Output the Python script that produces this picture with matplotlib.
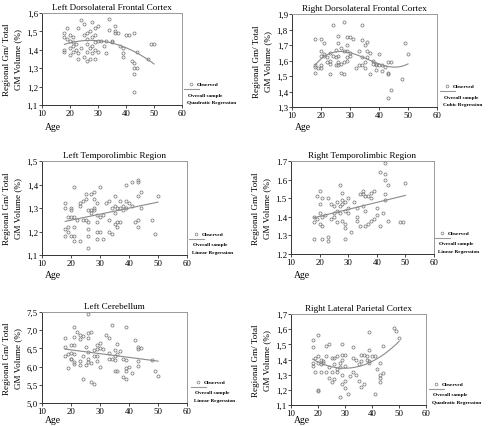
import matplotlib
matplotlib.use("Agg")
import matplotlib.pyplot as plt
import numpy as np
from matplotlib.ticker import FuncFormatter

plt.rcParams["font.family"] = ["Liberation Serif", "DejaVu Serif"]

# ---- data ----
# Left Dorsolateral Frontal Cortex
ldf_age = [18, 18, 18, 18, 19, 19, 20, 20, 20, 20, 21, 21, 21, 21, 22, 22,
           23, 23, 23, 24, 24, 25, 25, 25, 26, 26, 26, 26, 26, 27, 27, 27,
           28, 28, 28, 28, 29, 29, 29, 29, 29, 30, 30, 30, 31, 32, 33, 33,
           34, 34, 35, 35, 36, 36, 36, 37, 38, 39, 39, 39, 40, 41, 42,
           43, 43, 43, 43, 43, 44, 44, 48, 49, 50]
ldf_val = [1.49, 1.47, 1.40, 1.39, 1.52, 1.46, 1.48, 1.45, 1.41, 1.37,
           1.47, 1.44, 1.42, 1.39, 1.43, 1.40, 1.52, 1.38, 1.35, 1.56, 1.41,
           1.54, 1.48, 1.36, 1.49, 1.46, 1.43, 1.39, 1.34, 1.50, 1.41, 1.35,
           1.55, 1.47, 1.42, 1.38, 1.52, 1.48, 1.44, 1.40, 1.35, 1.53, 1.45,
           1.39, 1.45, 1.42, 1.45, 1.38, 1.57, 1.51, 1.44, 1.45, 1.53, 1.49,
           1.50, 1.49, 1.42, 1.41, 1.38, 1.36, 1.48, 1.48, 1.34,
           1.49, 1.33, 1.30, 1.27, 1.17, 1.30, 1.39, 1.35, 1.43, 1.43]
ldf_fit_age = [18, 25, 30, 35, 40, 45, 50]
ldf_fit_val = [1.43, 1.448, 1.45, 1.44, 1.41, 1.37, 1.325]

# Right Dorsolateral Frontal Cortex
rdf_age = [18, 18, 18, 18, 19, 20, 20, 20, 20, 20, 21, 21, 21, 22, 22,
           23, 23, 23, 23, 24, 24, 25, 25, 25, 26, 26, 26, 26, 26, 27, 27, 27,
           28, 28, 28, 28, 29, 29, 29, 29, 29, 30, 30, 30, 31, 32, 33, 33,
           34, 34, 34, 34, 35, 35, 35, 36, 36, 36, 37, 37, 38, 38, 39, 39, 39,
           40, 40, 41, 41, 42, 43, 43, 43, 43, 44, 44, 48, 49, 50]
rdf_val = [1.74, 1.57, 1.56, 1.52, 1.55, 1.74, 1.66, 1.63, 1.57, 1.55,
           1.71, 1.64, 1.63, 1.62, 1.59, 1.65, 1.60, 1.58, 1.51, 1.83, 1.63,
           1.67, 1.62, 1.57, 1.76, 1.71, 1.63, 1.59, 1.57, 1.68, 1.52, 1.58,
           1.85, 1.66, 1.51, 1.59, 1.75, 1.70, 1.66, 1.62, 1.60, 1.75, 1.65,
           1.63, 1.74, 1.55, 1.66, 1.57, 1.83, 1.73, 1.62, 1.57, 1.70, 1.59,
           1.55, 1.72, 1.66, 1.62, 1.65, 1.51, 1.60, 1.58, 1.58, 1.54, 1.57,
           1.64, 1.57, 1.53, 1.57, 1.56, 1.59, 1.52, 1.51, 1.36, 1.59, 1.41,
           1.48, 1.71, 1.64]
rdf_fit_age = [18, 22, 26, 30, 35, 40, 45, 50]
rdf_fit_val = [1.575, 1.63, 1.655, 1.655, 1.62, 1.575, 1.555, 1.58]

# Left Temporolimbic Region
ltl_age = [18, 18, 18, 18, 19, 19, 19, 20, 20, 20, 20, 21, 21, 21, 21, 21,
           22, 23, 23, 23, 24, 24, 25, 25, 25, 26, 26, 26, 26, 26, 27, 27, 27,
           28, 28, 28, 28, 29, 29, 29, 29, 29, 30, 30, 30, 31, 31, 32, 33, 33,
           33, 34, 34, 35, 35, 35, 35, 36, 36, 36, 37, 37, 37, 38, 38, 39, 39,
           39, 40, 41, 41, 42, 43, 43, 43, 43, 43, 44, 44, 48, 49, 50]
ltl_val = [1.32, 1.30, 1.21, 1.18, 1.26, 1.22, 1.20, 1.30, 1.29, 1.26, 1.18,
           1.39, 1.26, 1.22, 1.18, 1.16, 1.25, 1.32, 1.31, 1.16, 1.33, 1.25,
           1.36, 1.34, 1.25, 1.29, 1.24, 1.21, 1.18, 1.13, 1.36, 1.29, 1.28,
           1.37, 1.34, 1.30, 1.29, 1.32, 1.27, 1.24, 1.20, 1.17, 1.39, 1.26,
           1.20, 1.27, 1.17, 1.32, 1.33, 1.25, 1.20, 1.30, 1.19, 1.35, 1.31,
           1.28, 1.23, 1.30, 1.24, 1.22, 1.33, 1.30, 1.24, 1.31, 1.29, 1.40,
           1.33, 1.30, 1.32, 1.41, 1.31, 1.24, 1.42, 1.41, 1.35, 1.25, 1.22,
           1.37, 1.30, 1.25, 1.19, 1.35]
ltl_fit_age = [18, 50]
ltl_fit_val = [1.243, 1.325]

# Right Temporolimbic Region
rtl_age = [18, 18, 18, 19, 19, 20, 20, 20, 20, 21, 21, 21, 21, 22, 23, 23,
           23, 24, 24, 25, 25, 25, 26, 26, 26, 27, 27, 27, 28, 28, 28, 28,
           29, 29, 29, 29, 29, 30, 30, 30, 31, 32, 33, 33, 33, 34, 34, 35, 35,
           35, 36, 36, 36, 37, 37, 38, 38, 38, 39, 39, 40, 40, 41, 41, 42,
           43, 43, 43, 43, 43, 44, 44, 48, 49, 50]
rtl_val = [1.40, 1.37, 1.28, 1.51, 1.39, 1.54, 1.47, 1.42, 1.36, 1.50, 1.40,
           1.35, 1.28, 1.41, 1.50, 1.29, 1.27, 1.47, 1.39, 1.46, 1.42, 1.40,
           1.48, 1.43, 1.37, 1.57, 1.46, 1.42, 1.53, 1.49, 1.47, 1.38, 1.48,
           1.43, 1.36, 1.34, 1.28, 1.50, 1.45, 1.42, 1.32, 1.48, 1.40, 1.38,
           1.45, 1.52, 1.35, 1.54, 1.52, 1.46, 1.51, 1.43, 1.35, 1.51, 1.36,
           1.53, 1.50, 1.38, 1.54, 1.39, 1.41, 1.45, 1.64, 1.35, 1.42, 1.69,
           1.63, 1.60, 1.52, 1.49, 1.57, 1.38, 1.37, 1.37, 1.58]
rtl_fit_age = [18, 50]
rtl_fit_val = [1.395, 1.515]

# Left Cerebellum
lcb_age = [18, 18, 18, 19, 19, 20, 20, 20, 20, 21, 21, 21, 21, 21, 21, 22,
           23, 23, 23, 23, 24, 24, 24, 25, 25, 26, 26, 26, 26, 26, 26, 27, 27,
           27, 28, 28, 28, 29, 29, 29, 29, 30, 30, 30, 31, 32, 33, 33, 33, 34,
           34, 35, 35, 35, 35, 36, 36, 36, 37, 38, 38, 39, 39, 39, 39, 39, 40,
           41, 42, 43, 43, 43, 43, 44, 48, 49, 50]
lcb_val = [6.78, 6.55, 6.28, 6.35, 5.95, 6.58, 6.38, 6.22, 6.20, 7.10, 6.80,
           6.60, 6.35, 6.12, 6.08, 6.95, 6.88, 6.75, 6.15, 6.05, 6.85, 6.30,
           5.65, 6.55, 6.05, 7.45, 6.92, 6.78, 6.40, 6.22, 6.12, 6.95, 6.10,
           5.57, 6.45, 6.30, 5.52, 6.60, 6.48, 6.28, 6.15, 6.65, 6.50, 6.00,
           6.48, 6.88, 6.78, 6.38, 6.22, 7.15, 6.20, 6.45, 6.30, 6.18, 5.88,
           6.62, 6.35, 5.88, 6.42, 6.22, 5.72, 7.08, 6.18, 5.95, 5.88, 5.65,
           6.00, 5.82, 6.72, 6.55, 6.48, 6.15, 6.02, 6.52, 6.18, 5.88, 5.73]
lcb_fit_age = [18, 50]
lcb_fit_val = [6.48, 6.15]

# Right Lateral Parietal Cortex
rlp_age = [18, 18, 18, 18, 19, 19, 20, 20, 20, 20, 20, 21, 21, 21, 22, 22,
           23, 23, 23, 24, 24, 24, 25, 25, 25, 26, 26, 26, 27, 27, 27, 28, 28,
           28, 29, 29, 29, 29, 29, 30, 30, 30, 30, 31, 32, 33, 33, 33, 34, 34,
           35, 35, 36, 36, 36, 37, 37, 38, 38, 39, 39, 39, 39, 40, 41, 41, 42,
           43, 43, 43, 43, 44, 44, 48, 49, 50]
rlp_val = [1.53, 1.48, 1.38, 1.36, 1.41, 1.32, 1.56, 1.42, 1.38, 1.20, 1.19,
           1.40, 1.37, 1.32, 1.39, 1.38, 1.49, 1.42, 1.32, 1.50, 1.35, 1.28,
           1.41, 1.32, 1.25, 1.41, 1.37, 1.27, 1.42, 1.34, 1.32, 1.38, 1.35,
           1.15, 1.50, 1.43, 1.40, 1.30, 1.24, 1.43, 1.36, 1.26, 1.21, 1.17,
           1.29, 1.48, 1.41, 1.32, 1.40, 1.30, 1.37, 1.26, 1.43, 1.39, 1.22,
           1.43, 1.24, 1.42, 1.40, 1.58, 1.46, 1.39, 1.38, 1.42, 1.42, 1.17,
           1.34, 1.38, 1.30, 1.28, 1.25, 1.49, 1.31, 1.61, 1.59, 1.54]
rlp_fit_age = [18, 25, 30, 35, 40, 45, 50]
rlp_fit_val = [1.40, 1.36, 1.34, 1.35, 1.39, 1.44, 1.52]

panels = [
    ("Left Dorsolateral Frontal Cortex", ldf_age, ldf_val, ldf_fit_age, ldf_fit_val,
     2, "Quadratic Regression", (1.1, 1.6), [1.1, 1.2, 1.3, 1.4, 1.5, 1.6], ","),
    ("Right Dorsolateral Frontal Cortex", rdf_age, rdf_val, rdf_fit_age, rdf_fit_val,
     3, "Cubic Regression", (1.3, 1.9), [1.3, 1.4, 1.5, 1.6, 1.7, 1.8, 1.9], ","),
    ("Left Temporolimbic Region", ltl_age, ltl_val, ltl_fit_age, ltl_fit_val,
     1, "Linear Regression", (1.1, 1.5), [1.1, 1.2, 1.3, 1.4, 1.5], ","),
    ("Right Temporolimbic Region", rtl_age, rtl_val, rtl_fit_age, rtl_fit_val,
     1, "Linear Regression", (1.2, 1.7), [1.2, 1.3, 1.4, 1.5, 1.6, 1.7], "."),
    ("Left Cerebellum", lcb_age, lcb_val, lcb_fit_age, lcb_fit_val,
     1, "Linear Regression", (5.0, 7.5), [5.0, 5.5, 6.0, 6.5, 7.0, 7.5], ","),
    ("Right Lateral Parietal Cortex", rlp_age, rlp_val, rlp_fit_age, rlp_fit_val,
     2, "Quadratic Regression", (1.1, 1.7), [1.1, 1.2, 1.3, 1.4, 1.5, 1.6, 1.7], ","),
]

# axes boxes in pixels: left, top, right, bottom ; legend x ; "Age" y
W, H = 488, 427
boxes = [
    (42, 14, 182, 106, 186, 128),
    (292, 15, 437, 108, 442, 128),
    (42, 162, 187, 256, 191, 275),
    (291, 162, 434, 255, 437, 275),
    (42, 313, 187, 404, 193, 421),
    (291, 315, 426, 406, 431, 421),
]

fig = plt.figure(figsize=(W / 100, H / 100), dpi=100)
ft = fig.transFigure

for (title, age, val, fa, fv, deg, model, ylim, yticks, sep), \
        (l, t, r, b, lx, agey) in zip(panels, boxes):
    ax = fig.add_axes([l / W, 1 - b / H, (r - l) / W, (b - t) / H])
    ax.plot(age, val, "o", ms=2.2, mfc="none", mec="#7a7a7a", mew=0.55, ls="none")
    coef = np.polyfit(fa, fv, deg)
    xs = np.linspace(min(fa), max(fa), 100)
    ax.plot(xs, np.polyval(coef, xs), color="#8a8a8a", lw=0.8)
    ax.set_xlim(10, 60)
    ax.set_ylim(*ylim)
    ax.set_xticks([10, 20, 30, 40, 50, 60])
    ax.set_yticks(yticks)
    ax.yaxis.set_major_formatter(FuncFormatter(
        lambda v, p, s=sep: f"{v:.1f}".replace(".", s)))
    ax.tick_params(labelsize=6.3, length=2, width=0.5, pad=1)
    for side in ["top", "right"]:
        ax.spines[side].set_color("#999999")
        ax.spines[side].set_linewidth(0.7)
    for side in ["left", "bottom"]:
        ax.spines[side].set_color("#333333")
        ax.spines[side].set_linewidth(0.7)
    ax.set_title(title, fontsize=6.6, pad=3)
    ax.set_ylabel("Regional Gm/ Total\nGM Volume (%)", fontsize=6.6,
                  linespacing=1.5)
    # right edge of the two-line label sits ~20 px left of the axis
    ax.yaxis.set_label_coords(-20 / (r - l), 0.5)
    fig.text((l + 3) / W, 1 - agey / H, "Age", fontsize=7, va="center", ha="left")

    # key beside the plot
    ax.plot([(lx + 5) / W], [1 - (b - 21) / H], "o", ms=2, mfc="none",
            mec="#7a7a7a", mew=0.5, transform=ft, clip_on=False)
    fig.text((lx + 11) / W, 1 - (b - 21) / H, "Observed", fontsize=3.8,
             fontweight="bold", va="center", ha="left")
    ax.plot([(lx - 2) / W, (lx + 13) / W], [1 - (b - 16) / H] * 2,
            color="#999999", lw=0.8, transform=ft, clip_on=False)
    fig.text((lx + 2) / W, 1 - (b - 10.5) / H, "Overall sample", fontsize=3.8,
             fontweight="bold", va="center", ha="left")
    fig.text((lx + 1) / W, 1 - (b - 2.5) / H, model, fontsize=3.8,
             fontweight="bold", va="center", ha="left")

fig.savefig("out.png", dpi=100)
